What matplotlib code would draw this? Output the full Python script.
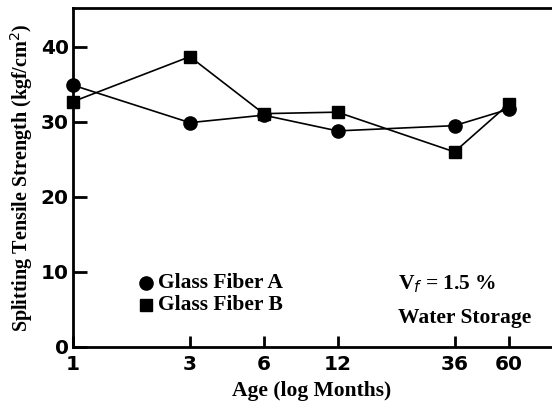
import matplotlib.pyplot as plt
from matplotlib.ticker import FixedLocator, NullLocator

# data
age_months = [1, 3, 6, 12, 36, 60]
fiber_a = [34.9, 29.9, 30.9, 28.8, 29.5, 31.7]
fiber_b = [32.7, 38.7, 31.1, 31.3, 26.0, 32.4]
x_ticks = [1, 3, 6, 12, 36, 60]
y_ticks = [0, 10, 20, 30, 40]

serif = "Liberation Serif"
tick_font = "DejaVu Sans"

fig = plt.figure(figsize=(5.52, 4.15), dpi=100)
ax = fig.add_axes([0.132, 0.164, 0.866, 0.817])

ax.plot(age_months, fiber_a, color="black", lw=1.2, marker="o",
        markersize=9.5, clip_on=False, zorder=3)
ax.plot(age_months, fiber_b, color="black", lw=1.2, marker="s",
        markersize=8.5, clip_on=False, zorder=3)

ax.set_xscale("log")
ax.set_xlim(1, 89)
ax.set_ylim(0, 45.2)
ax.xaxis.set_major_locator(FixedLocator(x_ticks))
ax.xaxis.set_minor_locator(NullLocator())
ax.set_xticklabels([str(v) for v in x_ticks])
ax.set_yticks(y_ticks)

for side in ["left", "bottom", "top"]:
    ax.spines[side].set_linewidth(2.0)
ax.spines["right"].set_visible(False)

ax.tick_params(axis="both", direction="in", width=2.0, labelsize=14.5)
ax.tick_params(axis="y", length=10, pad=3)
ax.tick_params(axis="x", length=8, pad=6)
for lab in ax.get_xticklabels() + ax.get_yticklabels():
    lab.set_fontfamily(tick_font)
    lab.set_fontweight("bold")

ax.set_xlabel("Age (log Months)", fontfamily=serif, fontweight="bold",
              fontsize=15.5, labelpad=5)
ax.set_ylabel("Splitting Tensile Strength (kgf/cm$^2$)", fontfamily=serif,
              fontweight="bold", fontsize=14.5, labelpad=4)

# legend drawn by hand as in the original
ax.plot([0.152], [0.19], transform=ax.transAxes, marker="o", color="black",
        markersize=9.5, linestyle="none")
ax.plot([0.152], [0.125], transform=ax.transAxes, marker="s", color="black",
        markersize=8.5, linestyle="none")
ax.text(0.178, 0.19, "Glass Fiber A", transform=ax.transAxes, va="center",
        fontfamily=serif, fontweight="bold", fontsize=15.5)
ax.text(0.178, 0.125, "Glass Fiber B", transform=ax.transAxes, va="center",
        fontfamily=serif, fontweight="bold", fontsize=15.5)

ax.text(0.68, 0.185, r"V$_f$ = 1.5 %", transform=ax.transAxes, va="center",
        fontfamily=serif, fontweight="bold", fontsize=15.5)
ax.text(0.68, 0.085, "Water Storage", transform=ax.transAxes, va="center",
        fontfamily=serif, fontweight="bold", fontsize=15.5)

fig.savefig("out.png", dpi=100)
